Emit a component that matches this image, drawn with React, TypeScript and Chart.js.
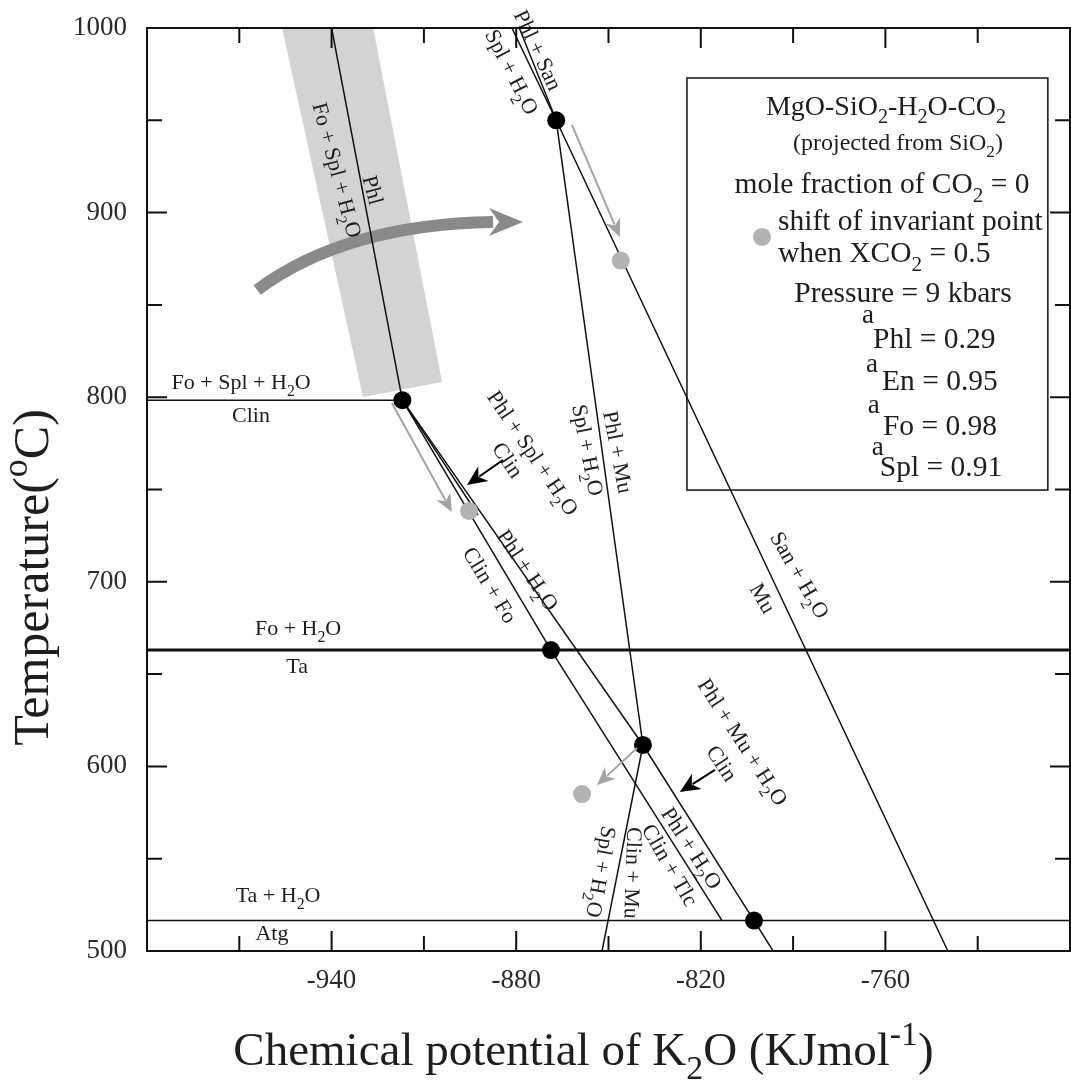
import React, { useEffect, useRef } from 'react';
import { Chart, registerables } from 'chart.js';
Chart.register(...registerables);

const FAM = '"Liberation Serif", "Times New Roman", Times, serif';
const TEXT = '#1e1e1e';

// ---- axes ----
const X_MIN = -1000, X_MAX = -700, Y_MIN = 500, Y_MAX = 1000;
const xTickLabels = [-940, -880, -820, -760];
const yTickLabels = [500, 600, 700, 800, 900, 1000];

// ---- invariant points (mole fraction CO2 = 0) ----
const invariantX = [-867, -917, -868.7, -838.8, -802.7];
const invariantY = [950, 798.4, 663, 611.6, 516.5];
// ---- shifted invariant points (XCO2 = 0.5) ----
const shiftedX = [-846, -895.3, -858.6];
const shiftedY = [874, 738.4, 585];

const I = invariantX.map((x, i) => ({ x, y: invariantY[i] }));

// ---- reaction lines ----
const lineFoSplPhl = [{ x: -940, y: 1000 }, I[1]];
const lineFoSplClin = [{ x: -1000, y: 798.4 }, I[1]];
const lineFoTa = [{ x: -1000, y: 663 }, { x: -700, y: 663 }];
const lineTaAtg = [{ x: -1000, y: 516.5 }, { x: -700, y: 516.5 }];
const lineClinFo = [I[1], I[2]];
const linePhlH2Oupper = [I[1], I[3]];
const linePhlSplClin = [I[1], { x: -892.4, y: 736.2 }];
const lineClinTlc = [I[2], { x: -813.1, y: 516.5 }];
const linePhlH2Olower = [I[3], I[4], { x: -796.5, y: 500 }];
const linePhlMu = [I[0], I[3]];
const lineClinMu = [I[3], { x: -852.1, y: 500 }];
const lineSanMu = [{ x: -881.4, y: 1000 }, I[0], { x: -739.7, y: 500 }];
const linePhlSan = [{ x: -879.0, y: 1000 }, I[0]];

const thinLines = [
  lineFoSplPhl, lineFoSplClin, lineTaAtg, lineClinFo, linePhlH2Oupper, linePhlSplClin,
  lineClinTlc, linePhlH2Olower, linePhlMu, lineClinMu, lineSanMu, linePhlSan,
];

// ---- shaded band & arrows ----
const bandX = [-956.1, -926.5, -904.1, -929.8];
const bandY = [1000, 1000, 808.2, 800.1];
const bigArrow = { sx: -964.2, sy: 858.1, cx: -935.5, cy: 893.6, ex: -887.5, ey: 894.9, tx: -877.8, ty: 894.9 };
const grayArrows = [
  [-861.9, 947.5, -846.3, 886.8],
  [-920.4, 796.9, -900.9, 737.8],
  [-840.7, 610.0, -853.7, 589.9],
];
const blackArrows = [
  [-884.3, 766.0, -896.0, 752.4],
  [-815.4, 598.1, -826.8, 586.1],
];

// ---- reaction labels ----
const labelText = [
  'Fo + Spl + H_2O', 'Phl', 'Phl + San', 'Spl + H_2O', 'Fo + Spl + H_2O', 'Clin', 'Fo + H_2O', 'Ta',
  'Ta + H_2O', 'Atg', 'Phl + Spl + H_2O', 'Clin', 'Phl + Mu', 'Spl + H_2O', 'Phl + H_2O', 'Clin + Fo',
  'San + H_2O', 'Mu', 'Phl + Mu + H_2O', 'Clin', 'Clin + Mu', 'Spl + H_2O', 'Phl + H_2O', 'Clin + Tlc',
];
const labelX = [
  -938.2, -926.5, -872.9, -881.4, -969.4, -966.2, -950.9, -951.2,
  -957.4, -959.4, -874.5, -882.7, -846.9, -856.7, -876.2, -888.5,
  -787.8, -799.8, -806.3, -813.1, -842.0, -852.4, -822.9, -830.0,
];
const labelY = [
  923.1, 912.2, 988.1, 976.2, 808.2, 790.4, 675.0, 654.4,
  530.3, 509.7, 769.8, 766.0, 770.3, 771.4, 706.4, 698.3,
  703.7, 691.2, 613.2, 601.8, 542.3, 542.8, 555.8, 546.6,
];
const labelRot = [
  75, 75, 65, 63, 0, 0, 0, 0,
  0, 0, 56, 56, 79, 79, 56, 59,
  60, 60, 57, 57, 92, 100, 57, 60,
];

// ---- legend panel ----
const legendBox = [-824.5, 972.9, -707.2, 749.7];
const legendDot = [-800.1, 886.8];
const legendText = [
  'MgO-SiO_2-H_2O-CO_2', '(projected from SiO_2)', 'mole fraction of CO_2 = 0', 'shift of invariant point',
  'when XCO_2 = 0.5', 'Pressure = 9 kbars', 'a', 'Phl = 0.29', 'a', 'En = 0.95', 'a', 'Fo = 0.98', 'a', 'Spl = 0.91',
];
const legendX = [-759.8, -755.9, -761.1, -794.9, -794.9, -754.3, -767.6, -764.0, -766.3, -761.1, -765.7, -760.8, -764.4, -761.8];
const legendY = [952.9, 933.9, 910.6, 890.6, 873.2, 851.6, 840.2, 826.7, 813.7, 803.9, 791.4, 779.5, 768.7, 757.3];
const legendSize = [28, 24, 29.5, 29.5, 29.5, 29.5, 27, 29.5, 27, 29.5, 27, 29.5, 27, 29.5];
const legendAlign = ['center', 'center', 'center', 'left', 'left', 'center', 'left', 'left', 'left', 'left', 'left', 'left', 'left', 'left'];

const xTitle = 'Chemical potential of K_2O (KJmol^{-1})';
const yTitle = 'Temperature(^oC)';

type Seg = { t: string; m: number };
function parse(s: string): Seg[] {
  const out: Seg[] = [];
  let buf = '';
  for (let i = 0; i < s.length; i++) {
    const c = s[i];
    if (c === '_' || c === '^') {
      if (buf) { out.push({ t: buf, m: 0 }); buf = ''; }
      let t = '';
      if (s[i + 1] === '{') { const j = s.indexOf('}', i + 2); t = s.slice(i + 2, j); i = j; }
      else { t = s[i + 1]; i++; }
      out.push({ t, m: c === '_' ? 1 : -1 });
    } else buf += c;
  }
  if (buf) out.push({ t: buf, m: 0 });
  return out;
}

function drawRich(ctx: CanvasRenderingContext2D, s: string, x: number, y: number,
  o: { size: number; align?: string; rot?: number; color?: string; mid?: boolean }) {
  const segs = parse(s);
  const f = o.size, fs = f * 0.72;
  const fn = `${f}px ${FAM}`, fsub = `${fs}px ${FAM}`;
  ctx.save();
  ctx.translate(x, y);
  if (o.rot) ctx.rotate((o.rot * Math.PI) / 180);
  let w = 0;
  const ws = segs.map((sg) => { ctx.font = sg.m ? fsub : fn; const m = ctx.measureText(sg.t).width; w += m; return m; });
  let cx = o.align === 'left' ? 0 : o.align === 'right' ? -w : -w / 2;
  const by = o.mid ? f * 0.33 : 0;
  ctx.fillStyle = o.color || TEXT;
  ctx.textBaseline = 'alphabetic';
  ctx.textAlign = 'left';
  segs.forEach((sg, i) => {
    ctx.font = sg.m ? fsub : fn;
    const dy = sg.m === 1 ? f * 0.3 : sg.m === -1 ? -f * 0.42 : 0;
    ctx.fillText(sg.t, cx, by + dy);
    cx += ws[i];
  });
  ctx.restore();
}

function arrowHead(ctx: CanvasRenderingContext2D, fx: number, fy: number, tx: number, ty: number, L: number, W: number, color: string) {
  const a = Math.atan2(ty - fy, tx - fx);
  ctx.save();
  ctx.translate(tx, ty);
  ctx.rotate(a);
  ctx.beginPath();
  ctx.moveTo(0, 0);
  ctx.lineTo(-L, -W);
  ctx.lineTo(-L * 0.7, 0);
  ctx.lineTo(-L, W);
  ctx.closePath();
  ctx.fillStyle = color;
  ctx.fill();
  ctx.restore();
}

function arrow(ctx: CanvasRenderingContext2D, fx: number, fy: number, tx: number, ty: number, L: number, W: number, color: string, lw: number) {
  const a = Math.atan2(ty - fy, tx - fx);
  const ex = tx - Math.cos(a) * L * 0.75, ey = ty - Math.sin(a) * L * 0.75;
  ctx.save();
  ctx.strokeStyle = color;
  ctx.lineWidth = lw;
  ctx.beginPath();
  ctx.moveTo(fx, fy);
  ctx.lineTo(ex, ey);
  ctx.stroke();
  ctx.restore();
  arrowHead(ctx, fx, fy, tx, ty, L, W, color);
}

const phasePlugin = {
  id: 'phaseDiagram',
  beforeDatasetsDraw(chart: any) {
    const { ctx, scales } = chart;
    const X = (v: number) => scales.x.getPixelForValue(v);
    const Y = (v: number) => scales.y.getPixelForValue(v);
    ctx.save();
    ctx.beginPath();
    bandX.forEach((bx, i) => (i ? ctx.lineTo(X(bx), Y(bandY[i])) : ctx.moveTo(X(bx), Y(bandY[i]))));
    ctx.closePath();
    ctx.fillStyle = '#d3d3d3';
    ctx.fill();
    const b = bigArrow;
    ctx.strokeStyle = '#8a8a8a';
    ctx.lineWidth = 12;
    ctx.beginPath();
    ctx.moveTo(X(b.sx), Y(b.sy));
    ctx.quadraticCurveTo(X(b.cx), Y(b.cy), X(b.ex), Y(b.ey));
    ctx.stroke();
    arrowHead(ctx, X(b.ex), Y(b.ey), X(b.tx), Y(b.ty), 34, 14, '#8a8a8a');
    ctx.restore();
  },
  afterDatasetsDraw(chart: any) {
    const { ctx, scales, chartArea: ca } = chart;
    const X = (v: number) => scales.x.getPixelForValue(v);
    const Y = (v: number) => scales.y.getPixelForValue(v);
    ctx.save();
    grayArrows.forEach(([a, b, c, d]) => arrow(ctx, X(a), Y(b), X(c), Y(d), 18, 8, '#a3a3a3', 2));
    blackArrows.forEach(([a, b, c, d]) => arrow(ctx, X(a), Y(b), X(c), Y(d), 20, 9, '#000', 2));
    labelText.forEach((t, i) => drawRich(ctx, t, X(labelX[i]), Y(labelY[i]), { size: 22, align: 'center', rot: labelRot[i], mid: true }));
    ctx.strokeStyle = '#111';
    ctx.lineWidth = 1.5;
    ctx.strokeRect(X(legendBox[0]), Y(legendBox[1]), X(legendBox[2]) - X(legendBox[0]), Y(legendBox[3]) - Y(legendBox[1]));
    ctx.beginPath();
    ctx.arc(X(legendDot[0]), Y(legendDot[1]), 9, 0, Math.PI * 2);
    ctx.fillStyle = '#b3b3b3';
    ctx.fill();
    legendText.forEach((t, i) => drawRich(ctx, t, X(legendX[i]), Y(legendY[i]), { size: legendSize[i], align: legendAlign[i] }));
    ctx.strokeStyle = '#111';
    ctx.lineWidth = 2;
    ctx.strokeRect(ca.left, ca.top, ca.right - ca.left, ca.bottom - ca.top);
    ctx.beginPath();
    scales.x.ticks.forEach((tk: any) => {
      const v = tk.value;
      const len = (v - X_MIN) % 60 === 0 ? 20 : 15;
      const p = X(v);
      ctx.moveTo(p, ca.bottom); ctx.lineTo(p, ca.bottom - len);
      ctx.moveTo(p, ca.top); ctx.lineTo(p, ca.top + len);
    });
    scales.y.ticks.forEach((tk: any) => {
      const v = tk.value;
      const len = (v - Y_MIN) % 100 === 0 ? 20 : 15;
      const p = Y(v);
      ctx.moveTo(ca.left, p); ctx.lineTo(ca.left + len, p);
      ctx.moveTo(ca.right, p); ctx.lineTo(ca.right - len, p);
    });
    ctx.stroke();
    drawRich(ctx, xTitle, (ca.left + ca.right) / 2 - 25, ca.bottom + 114, { size: 47, align: 'center' });
    drawRich(ctx, yTitle, ca.left - 99, (ca.top + ca.bottom) / 2 + 88, { size: 50, align: 'center', rot: -90 });
    ctx.restore();
  },
};

export default function App() {
  const ref = useRef<HTMLCanvasElement | null>(null);
  useEffect(() => {
    if (!ref.current) return;
    const lineDs = (pts: any[], w: number) => ({
      type: 'scatter' as const,
      data: pts,
      showLine: true,
      borderColor: '#111',
      borderWidth: w,
      pointRadius: 0,
      fill: false,
      tension: 0,
    });
    const datasets: any[] = [
      {
        label: 'invariant points',
        data: I,
        pointRadius: 9,
        pointBackgroundColor: '#000',
        pointBorderWidth: 0,
        showLine: false,
      },
      {
        label: 'shifted invariant points (XCO2 = 0.5)',
        data: shiftedX.map((x, i) => ({ x, y: shiftedY[i] })),
        pointRadius: 9,
        pointBackgroundColor: '#b3b3b3',
        pointBorderWidth: 0,
        showLine: false,
      },
      lineDs(lineFoTa, 3),
      ...thinLines.map((l) => lineDs(l, 1.5)),
    ];
    const chart = new Chart(ref.current, {
      type: 'scatter',
      data: { datasets },
      options: {
        animation: false,
        responsive: false,
        devicePixelRatio: 1,
        layout: { autoPadding: false, padding: { top: 28, right: 1, left: 0, bottom: 0 } },
        plugins: { legend: { display: false }, tooltip: { enabled: false } },
        scales: {
          x: {
            type: 'linear',
            min: X_MIN,
            max: X_MAX,
            grid: { display: false, drawTicks: false },
            border: { display: false },
            ticks: {
              stepSize: 30,
              autoSkip: false,
              maxRotation: 0,
              padding: 14,
              color: '#2a2a2a',
              font: { family: FAM, size: 27 },
              callback: (v: any) => (xTickLabels.includes(Number(v)) ? String(v) : ''),
            },
            afterFit: (s: any) => {
              s.height = 130;
              s.paddingLeft = 0; s.paddingRight = 0; s.paddingTop = 0; s.paddingBottom = 0;
            },
          },
          y: {
            type: 'linear',
            min: Y_MIN,
            max: Y_MAX,
            grid: { display: false, drawTicks: false },
            border: { display: false },
            ticks: {
              stepSize: 50,
              autoSkip: false,
              padding: 20,
              color: '#2a2a2a',
              font: { family: FAM, size: 27 },
              callback: (v: any) => (yTickLabels.includes(Number(v)) ? String(v) : ''),
            },
            afterFit: (s: any) => {
              s.width = 147;
              s.paddingLeft = 0; s.paddingRight = 0; s.paddingTop = 0; s.paddingBottom = 0;
            },
          },
        },
      },
      plugins: [phasePlugin],
    });
    return () => chart.destroy();
  }, []);
  return (
    <div style={{ position: 'fixed', left: 0, top: 0, width: 1071, height: 1081, background: '#fff' }}>
      <canvas ref={ref} width={1071} height={1081} style={{ display: 'block' }} />
    </div>
  );
}
